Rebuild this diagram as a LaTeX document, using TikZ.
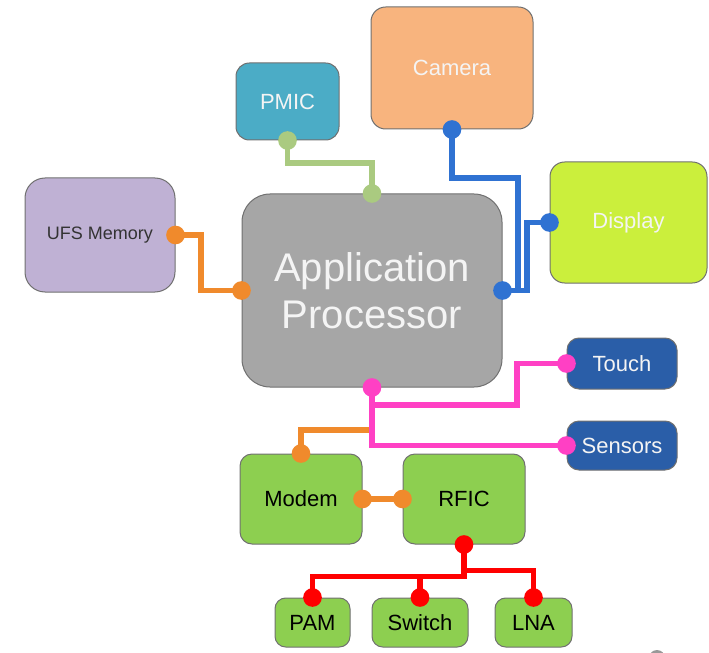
\documentclass[tikz,border=0pt]{standalone}
\usepackage{fontspec}
\setmainfont{Liberation Sans}
\definecolor{boxline}{HTML}{707070}
\definecolor{camfill}{HTML}{F8B47E}
\definecolor{pmicfill}{HTML}{4BACC6}
\definecolor{ufsfill}{HTML}{BFB1D4}
\definecolor{dispfill}{HTML}{CBEF3C}
\definecolor{apfill}{HTML}{A6A6A6}
\definecolor{bluefill}{HTML}{2A5EA8}
\definecolor{greenfill}{HTML}{8DCF50}
\definecolor{wgreen}{HTML}{AACA80}
\definecolor{wblue}{HTML}{2F72D2}
\definecolor{worange}{HTML}{F08A2C}
\definecolor{wpink}{HTML}{FF40C4}
\definecolor{wred}{HTML}{FF0000}
\definecolor{lighttext}{HTML}{F4F4F4}
\begin{document}
\begin{tikzpicture}[x=0.75pt,y=-0.75pt,
  box/.style={draw=boxline, line width=0.75pt, rounded corners=#1, inner sep=0pt, align=center,
    font=\fontsize{16.5}{19}\selectfont},
  box/.default=9pt,
  wire/.style={line width=4.3pt},
  dot/.style={radius=7pt}]
\useasboundingbox (0,0) rectangle (709,652);

% boxes
\node[box=11pt, fill=camfill, text=lighttext, minimum width=121.5pt, minimum height=91.5pt] (cam) at (452,68) {Camera};
\node[box=10pt, fill=pmicfill, text=lighttext, minimum width=77.25pt, minimum height=57.75pt] (pmic) at (287.5,101.5) {PMIC};
\node[box=15pt, fill=ufsfill, text=black!80, minimum width=112.5pt, minimum height=85.5pt,
  font=\fontsize{13.5}{16}\selectfont] (ufs) at (100,235) {UFS Memory};
\node[box=21pt, fill=apfill, text=lighttext, minimum width=195pt, minimum height=144.75pt,
  font=\fontsize{30}{35}\selectfont] (ap) at (372,290.5) {Application\\Processor};
\node[box=11pt, fill=dispfill, text=lighttext, minimum width=117.75pt, minimum height=90.75pt] (disp) at (628.5,222.5) {Display};
\node[box=9pt, fill=bluefill, text=lighttext, minimum width=82.5pt, minimum height=38.25pt] (touch) at (622,363.5) {Touch};
\node[box=9pt, fill=bluefill, text=lighttext, minimum width=82.5pt, minimum height=36.75pt] (sens) at (622,445.5) {Sensors};
\node[box=9pt, fill=greenfill, text=black, minimum width=91.5pt, minimum height=67.5pt] (modem) at (301,499) {Modem};
\node[box=9pt, fill=greenfill, text=black, minimum width=91.5pt, minimum height=67.5pt] (rfic) at (464,499) {RFIC};
\node[box=8pt, fill=greenfill, text=black, minimum width=56.25pt, minimum height=36.75pt] (pam) at (312.5,622.5) {PAM};
\node[box=8pt, fill=greenfill, text=black, minimum width=72pt, minimum height=36.75pt] (sw) at (420,622.5) {Switch};
\node[box=8pt, fill=greenfill, text=black, minimum width=57.75pt, minimum height=36.75pt] (lna) at (533.5,622.5) {LNA};

% wires
\draw[wire, wgreen] (pmic.south) |- (372,163) -- (ap.north);
\fill[wgreen] (pmic.south) circle[dot] (ap.north) circle[dot];

\draw[wire, wblue] (cam.south) |- (518,178) |- (ap.east);
\draw[wire, wblue] (disp.west) -| (527,260) |- (ap.east);
\fill[wblue] (cam.south) circle[dot] (disp.west) circle[dot] (ap.east) circle[dot];

\draw[wire, worange] (ufs.east) -| (201,260) |- (ap.west);
\fill[worange] (ufs.east) circle[dot] (ap.west) circle[dot];

\draw[wire, worange] (modem.north) |- (372,430);
\draw[wire, worange] (modem.east) -- (rfic.west);
\fill[worange] (modem.north) circle[dot] (modem.east) circle[dot] (rfic.west) circle[dot];

\draw[wire, wpink] (ap.south) |- (517,405) |- (touch.west);
\draw[wire, wpink] (ap.south) |- (sens.west);
\fill[wpink] (ap.south) circle[dot] (touch.west) circle[dot] (sens.west) circle[dot];

\draw[wire, wred] (rfic.south) -- ++(0,32) -| (pam.north);
\draw[wire, wred] (sw.north) -- ++(0,-22);
\draw[wire, wred] (rfic.south) -- ++(0,26) -| (lna.north);
\fill[wred] (rfic.south) circle[dot] (pam.north) circle[dot] (sw.north) circle[dot] (lna.north) circle[dot];

% cut-off grey mark at the bottom edge
\fill[black!40] (657,658) circle (6pt);
\end{tikzpicture}
\end{document}
